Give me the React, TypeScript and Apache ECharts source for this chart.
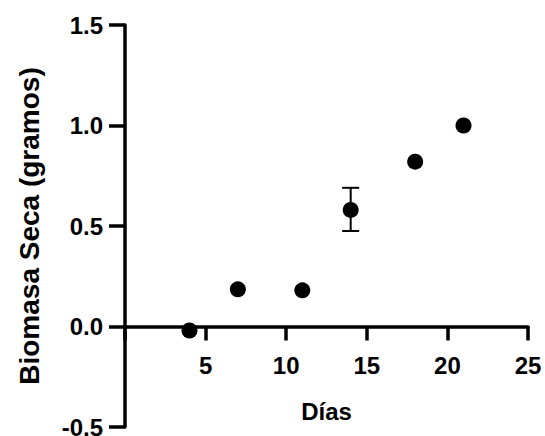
import React, { useEffect, useRef } from "react";
import * as echarts from "echarts";

const days: number[] = [4, 7, 11, 14, 18, 21];
const biomasa: number[] = [-0.02, 0.185, 0.18, 0.58, 0.82, 1.0];
const errLow: (number | null)[] = [null, null, null, 0.475, null, null];
const errHigh: (number | null)[] = [null, null, null, 0.69, null, null];
const xTicks: number[] = [5, 10, 15, 20, 25];
const yTicks: number[] = [-0.5, 0, 0.5, 1.0, 1.5];

const FONT = "Liberation Sans, Arial, Helvetica, sans-serif";
const X_MIN = 0;
const X_MAX = 25;
const Y_MIN = -0.5;
const Y_MAX = 1.5;

export default function App() {
  const ref = useRef<HTMLDivElement>(null);
  useEffect(() => {
    if (!ref.current) return;
    const chart = echarts.init(ref.current, undefined, { renderer: "svg" });
    const errData = days
      .map((d, i) => [d, errLow[i], errHigh[i]])
      .filter((r) => r[1] !== null && r[2] !== null);
    const gridTop = 25;
    const gridBottom = 9;
    const plotH = 436 - gridTop - gridBottom;
    // distance from the grid bottom (y = Y_MIN) up to y = 0
    const zeroOffset = (plotH * (0 - Y_MIN)) / (Y_MAX - Y_MIN);
    const labelStyle = {
      color: "#000",
      fontSize: 24,
      fontWeight: "bold",
      fontFamily: FONT,
    };
    chart.setOption({
      animation: false,
      backgroundColor: "#ffffff",
      grid: {
        left: 125,
        right: 17,
        top: gridTop,
        bottom: gridBottom,
        containLabel: false,
        outerBoundsMode: "none",
      },
      xAxis: [
        {
          type: "value",
          min: X_MIN,
          max: X_MAX,
          interval: 5,
          splitLine: { show: false },
          axisLine: { show: true, onZero: true, lineStyle: { color: "#000", width: 3.5 } },
          axisTick: { show: true, length: 14, lineStyle: { color: "#000", width: 3.5 } },
          axisLabel: { show: false },
        },
        {
          type: "value",
          position: "bottom",
          offset: -zeroOffset,
          min: X_MIN,
          max: X_MAX,
          interval: 5,
          splitLine: { show: false },
          axisLine: { show: false, onZero: false },
          axisTick: { show: false },
          axisLabel: {
            show: true,
            margin: 27,
            ...labelStyle,
            formatter: (v: number) => (xTicks.includes(v) ? String(v) : ""),
          },
          name: "Días",
          nameLocation: "middle",
          nameGap: 73,
          nameTextStyle: { ...labelStyle },
        },
      ],
      yAxis: {
        type: "value",
        min: Y_MIN,
        max: Y_MAX,
        interval: 0.5,
        splitLine: { show: false },
        axisLine: { show: true, onZero: false, lineStyle: { color: "#000", width: 3.5 } },
        axisTick: { show: true, length: 16, lineStyle: { color: "#000", width: 3.5 } },
        axisLabel: {
          show: true,
          margin: 22,
          ...labelStyle,
          formatter: (v: number) =>
            yTicks.some((t) => Math.abs(t - v) < 1e-9) ? v.toFixed(1) : "",
        },
        name: "Biomasa Seca (gramos)",
        nameLocation: "middle",
        nameGap: 82,
        nameRotate: 90,
        nameTextStyle: { ...labelStyle, fontSize: 28 },
      },
      series: [
        {
          type: "custom",
          data: errData,
          xAxisIndex: 0,
          z: 3,
          renderItem: (params: any, api: any) => {
            const x = api.value(0);
            const lo = api.coord([x, api.value(1)]);
            const hi = api.coord([x, api.value(2)]);
            const half = 8.5;
            const style = { stroke: "#000", lineWidth: 2 };
            return {
              type: "group",
              children: [
                { type: "line", shape: { x1: lo[0], y1: lo[1], x2: hi[0], y2: hi[1] }, style },
                { type: "line", shape: { x1: lo[0] - half, y1: lo[1], x2: lo[0] + half, y2: lo[1] }, style },
                { type: "line", shape: { x1: hi[0] - half, y1: hi[1], x2: hi[0] + half, y2: hi[1] }, style },
              ],
            };
          },
        },
        {
          type: "scatter",
          xAxisIndex: 0,
          z: 4,
          symbol: "circle",
          symbolSize: 16,
          itemStyle: { color: "#000", opacity: 1 },
          data: days.map((d, i) => [d, biomasa[i]]),
        },
      ],
    });
    return () => chart.dispose();
  }, []);
  return (
    <div
      ref={ref}
      style={{ position: "fixed", left: 0, top: 0, width: 545, height: 436, background: "#fff" }}
    />
  );
}
